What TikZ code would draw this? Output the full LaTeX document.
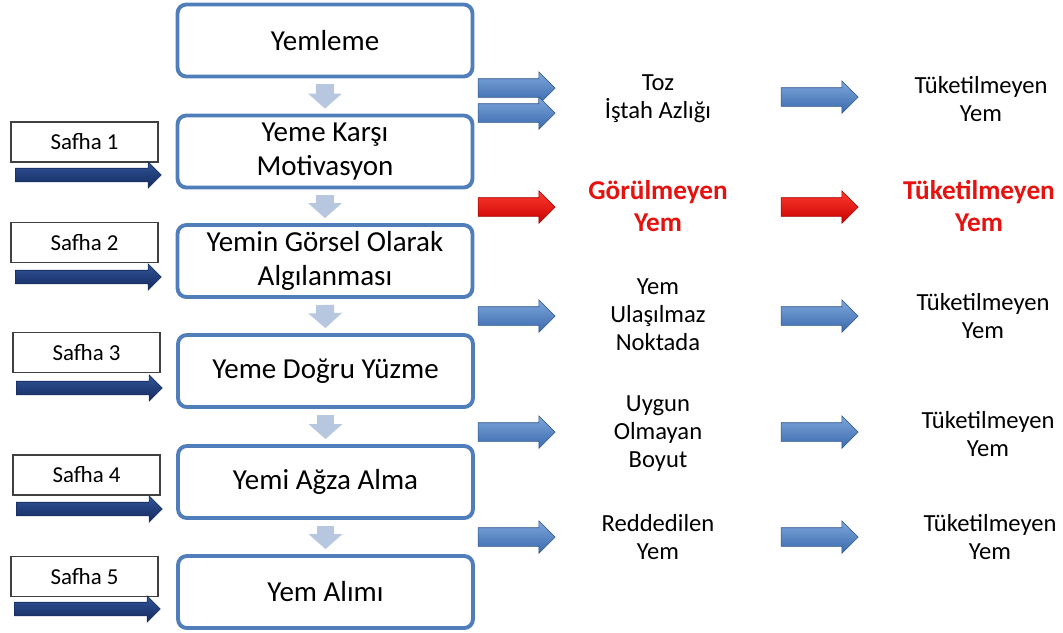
\documentclass[tikz,border=0pt]{standalone}
\usepackage{fontspec}
\setmainfont{Carlito}
\usetikzlibrary{shapes.arrows, arrows.meta}

\definecolor{boxblue}{HTML}{4F7EBA}
\definecolor{arrowtop}{HTML}{7DA7DB}
\definecolor{arrowbot}{HTML}{3A69AC}
\definecolor{redtop}{HTML}{FF3B30}
\definecolor{redbot}{HTML}{C80000}
\definecolor{navytop}{HTML}{31549A}
\definecolor{navybot}{HTML}{142A5C}
\definecolor{greyblue}{HTML}{B7C7DF}
\definecolor{redtext}{HTML}{E5120F}

\tikzset{
	mainbox/.style={draw=boxblue, line width=2.2pt, rounded corners=5pt, fill=white, minimum width=5.9cm, minimum height=1.44cm, align=center, font=\fontsize{16.5}{19}\selectfont},
	safhabox/.style={draw=black!75, line width=0.6pt, fill=white, minimum width=2.94cm, minimum height=0.8cm, inner sep=0pt, font=\fontsize{13}{15}\selectfont},
	bluearrow/.style={single arrow, single arrow head extend=0.14cm, minimum height=1.54cm, inner xsep=0pt, inner ysep=0.18cm, top color=arrowtop, bottom color=arrowbot, draw=arrowbot!80!black, line width=0.3pt},
	redarrow/.style={bluearrow, top color=redtop, bottom color=redbot, draw=redbot!80!black},
	navyarrow/.style={single arrow, single arrow head extend=0.13cm, minimum height=2.92cm, inner xsep=0pt, inner ysep=0.13cm, top color=navytop, bottom color=navybot, draw=navybot, line width=0.3pt},
	stepflow/.style={draw=greyblue, line width=0.36cm, -{Triangle[width=0.66cm, length=0.3cm]}},
	note/.style={align=center, font=\fontsize{14}{16}\selectfont},
	rednote/.style={align=center, text=redtext, font=\bfseries\fontsize{15.5}{18}\selectfont}
}

\begin{document}
\begin{tikzpicture}[x=0.02cm, y=-0.02cm]
	\useasboundingbox (0, 0) rectangle (1063, 633);

	% main steps
	\node[mainbox] (yemleme) at (325, 40.5) {Yemleme};
	\node[mainbox] (motivasyon) at (325, 151.5) {Yeme Karşı\\Motivasyon};
	\node[mainbox] (algilama) at (325, 261) {Yemin Görsel Olarak\\Algılanması};
	\node[mainbox] (yuzme) at (325.5, 371) {Yeme Doğru Yüzme};
	\node[mainbox] (agza) at (325.5, 482) {Yemi Ağza Alma};
	\node[mainbox] (alim) at (325.5, 592) {Yem Alımı};

	\draw[stepflow] ([yshift=-0.12cm]yemleme.south) -- ([yshift=0.1cm]motivasyon.north);
	\draw[stepflow] ([yshift=-0.12cm]motivasyon.south) -- ([yshift=0.1cm]algilama.north);
	\draw[stepflow] ([yshift=-0.12cm]algilama.south) -- ([yshift=0.1cm]yuzme.north);
	\draw[stepflow] ([yshift=-0.12cm]yuzme.south) -- ([yshift=0.1cm]agza.north);
	\draw[stepflow] ([yshift=-0.12cm]agza.south) -- ([yshift=0.1cm]alim.north);

	% phases
	\node[safhabox] (safha1) at (84.5, 142) {Safha 1};
	\node[safhabox] (safha2) at (84.5, 242.5) {Safha 2};
	\node[safhabox] (safha3) at (86.5, 352.5) {Safha 3};
	\node[safhabox] (safha4) at (86.5, 475) {Safha 4};
	\node[safhabox] (safha5) at (84.5, 576.5) {Safha 5};

	\node[navyarrow] (phase1) at (85, 175) {};
	\node[navyarrow] (phase2) at (85, 277) {};
	\node[navyarrow] (phase3) at (86, 388) {};
	\node[navyarrow] (phase4) at (86, 509) {};
	\node[navyarrow] (phase5) at (84, 609) {};

	% losses
	\node[bluearrow] (outa) at (512, 88) {};
	\node[bluearrow] (outb) at (512, 113) {};
	\node[redarrow] (outc) at (512, 207) {};
	\node[bluearrow] (outd) at (512, 316) {};
	\node[bluearrow] (oute) at (512, 432) {};
	\node[bluearrow] (outf) at (512, 537) {};

	\node[note] (toz) at (658, 99) {Toz\\İştah Azlığı};
	\node[rednote] (gorulmeyen) at (658, 206) {Görülmeyen\\Yem};
	\node[note] (ulasilmaz) at (658, 315) {Yem\\Ulaşılmaz\\Noktada};
	\node[note] (boyut) at (658, 433.5) {Uygun\\Olmayan\\Boyut};
	\node[note] (reddedilen) at (658, 537) {Reddedilen\\Yem};

	\node[bluearrow] (resa) at (815, 97) {};
	\node[redarrow] (resb) at (815, 207) {};
	\node[bluearrow] (resc) at (815, 316) {};
	\node[bluearrow] (resd) at (815, 432) {};
	\node[bluearrow] (rese) at (815, 537) {};

	\node[note] (tuka) at (981, 99) {Tüketilmeyen\\Yem};
	\node[rednote] (tukb) at (979, 206) {Tüketilmeyen\\Yem};
	\node[note] (tukc) at (983, 316) {Tüketilmeyen\\Yem};
	\node[note] (tukd) at (988, 434) {Tüketilmeyen\\Yem};
	\node[note] (tuke) at (990, 537) {Tüketilmeyen\\Yem};
\end{tikzpicture}
\end{document}
